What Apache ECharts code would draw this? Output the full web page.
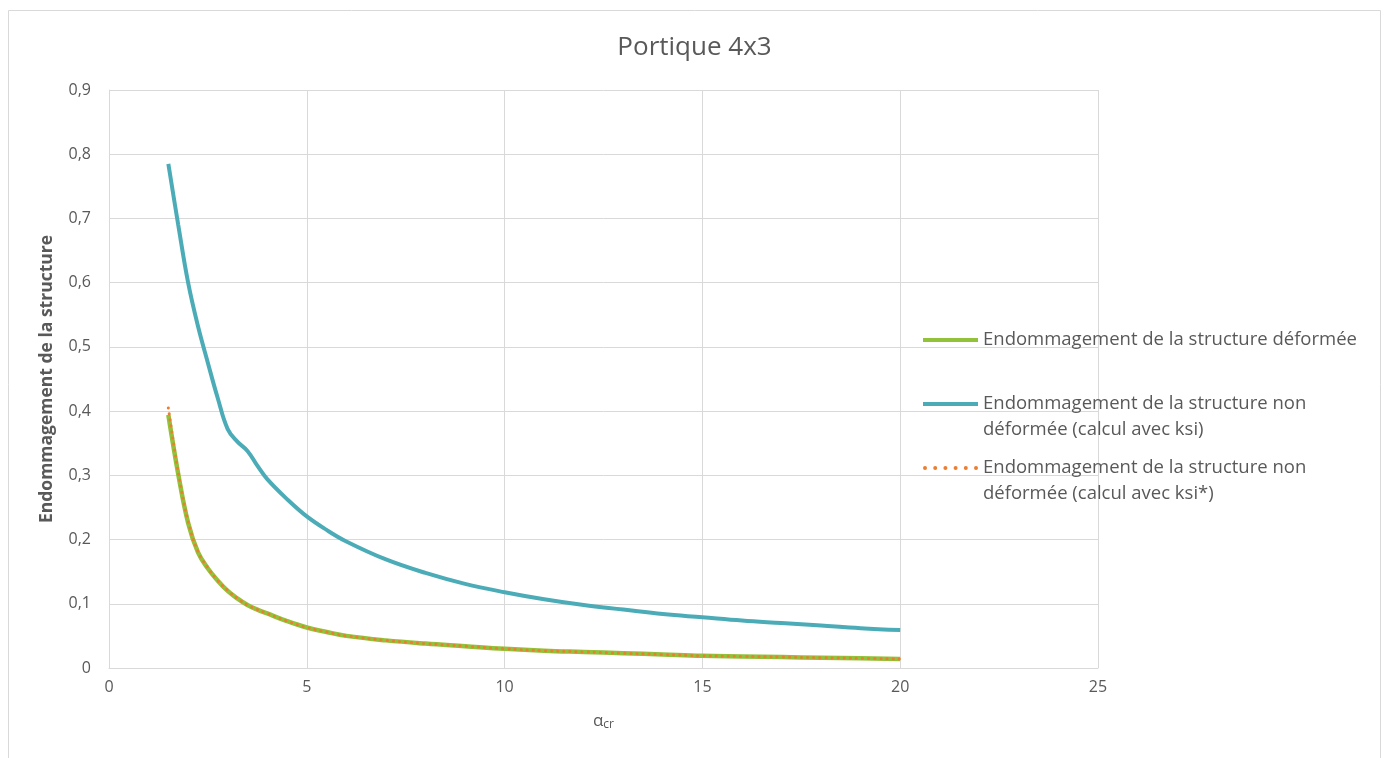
<!DOCTYPE html>
<html><head><meta charset="utf-8">
<script src="https://cdn.jsdelivr.net/npm/echarts@6/dist/echarts.min.js"></script>
<style>html,body{margin:0;padding:0;background:#fff}#c{width:1389px;height:758px}</style>
</head><body><div id="c"></div>
<script>
const alphaCr = [1.5,1.75,2,2.25,2.5,2.75,3,3.25,3.5,3.75,4,4.5,5,5.5,6,7,8,9,10,11,12,13,14,15,16,17,18,19,20];
const endomDeformee = [0.394,0.302,0.226,0.18,0.155,0.136,0.12,0.108,0.098,0.091,0.085,0.073,0.063,0.056,0.050,0.043,0.038,0.034,0.030,0.027,0.025,0.023,0.021,0.019,0.018,0.017,0.016,0.015,0.014];
const endomNonDefKsi = [0.785,0.69,0.6,0.532,0.475,0.42,0.372,0.352,0.338,0.315,0.294,0.263,0.236,0.215,0.197,0.169,0.148,0.131,0.118,0.107,0.098,0.091,0.084,0.079,0.074,0.070,0.066,0.062,0.059];
const endomNonDefKsiStar = [0.405,0.305,0.228,0.181,0.156,0.136,0.121,0.108,0.098,0.091,0.085,0.073,0.063,0.056,0.050,0.043,0.038,0.034,0.030,0.027,0.025,0.023,0.021,0.019,0.018,0.017,0.016,0.015,0.014];
const seriesNames = ['Endommagement de la structure déformée','Endommagement de la structure non\ndéformée (calcul avec ksi)','Endommagement de la structure non\ndéformée (calcul avec ksi*)'];
const xTicks = {min:0,max:25,step:5};
const yTicks = {min:0,max:0.9,step:0.1};
const pair = (xs, ys) => xs.map((x,i)=>[x,ys[i]]);
const font = 'Open Sans';
const txt = '#595959';
const cGreen = '#92c13a', cBlue = '#4bacb8', cOrange = '#ed7d31';
const solidIcon = 'path://M0,0H55V4H0Z';
let dots = '';
for (let i = 0; i < 6; i++) { const cx = 2 + i * 10.2; dots += `M${cx-2},2a2,2 0 1,0 4,0a2,2 0 1,0 -4,0Z`; }
const dotIcon = 'path://' + dots;
const chart = echarts.init(document.getElementById('c'));
chart.setOption({
  animation:false,
  textStyle:{fontFamily:font},
  title:{text:'Portique 4x3',left:'center',top:30,textStyle:{fontFamily:font,fontSize:26,fontWeight:'normal',color:txt}},
  graphic:[{type:'rect',shape:{x:8.5,y:10.5,width:1372,height:760},style:{fill:'none',stroke:'#d9d9d9',lineWidth:1},silent:true}],
  grid:{left:109,right:291,top:90,bottom:90,containLabel:false},
  legend:{
    orient:'vertical',left:923,top:301,padding:0,itemWidth:55,itemHeight:4,itemGap:-14,
    textStyle:{fontFamily:font,fontSize:18.5,color:txt,lineHeight:26},
    formatter:name => name.indexOf('\n') >= 0 ? '\n' + name : name,
    data:[
      {name:seriesNames[0],icon:solidIcon,itemStyle:{color:cGreen},textStyle:{padding:[26,0,26,0]}},
      {name:seriesNames[1],icon:solidIcon,itemStyle:{color:cBlue}},
      {name:seriesNames[2],icon:dotIcon,itemStyle:{color:cOrange}}
    ]
  },
  xAxis:{type:'value',min:xTicks.min,max:xTicks.max,interval:xTicks.step,
    name:'{a|α}{s|cr}',nameLocation:'middle',nameGap:44,
    nameTextStyle:{rich:{a:{fontFamily:font,fontSize:17,color:txt},s:{fontFamily:font,fontSize:12,color:txt,verticalAlign:'bottom',padding:[7,0,0,0]}}},
    axisLine:{show:true,lineStyle:{color:'#d9d9d9'}},axisTick:{show:false},
    axisLabel:{color:txt,fontSize:16,fontFamily:font,margin:11},
    splitLine:{show:true,lineStyle:{color:'#d9d9d9',width:1}}},
  yAxis:{type:'value',min:yTicks.min,max:yTicks.max,interval:yTicks.step,
    name:'Endommagement de la structure',nameLocation:'middle',nameGap:53,
    nameTextStyle:{fontFamily:font,fontSize:17.5,fontWeight:'bold',color:txt},
    axisLine:{show:true,lineStyle:{color:'#d9d9d9'}},axisTick:{show:false},
    axisLabel:{color:txt,fontSize:16,fontFamily:font,margin:18,formatter:v=>(Math.round(v*10)/10).toString().replace('.',',')},
    splitLine:{show:true,lineStyle:{color:'#d9d9d9',width:1}}},
  series:[
    {name:seriesNames[0],type:'line',smooth:0.4,symbol:'none',data:pair(alphaCr,endomDeformee),lineStyle:{color:cGreen,width:4.5},itemStyle:{color:cGreen},z:2},
    {name:seriesNames[1],type:'line',smooth:0.4,symbol:'none',data:pair(alphaCr,endomNonDefKsi),lineStyle:{color:cBlue,width:4},itemStyle:{color:cBlue},z:2},
    {name:seriesNames[2],type:'line',smooth:0.4,symbol:'none',data:pair(alphaCr,endomNonDefKsiStar),lineStyle:{color:cOrange,width:3,type:[0.1,6],cap:'round'},itemStyle:{color:cOrange},z:3}
  ]
});
</script></body></html>
